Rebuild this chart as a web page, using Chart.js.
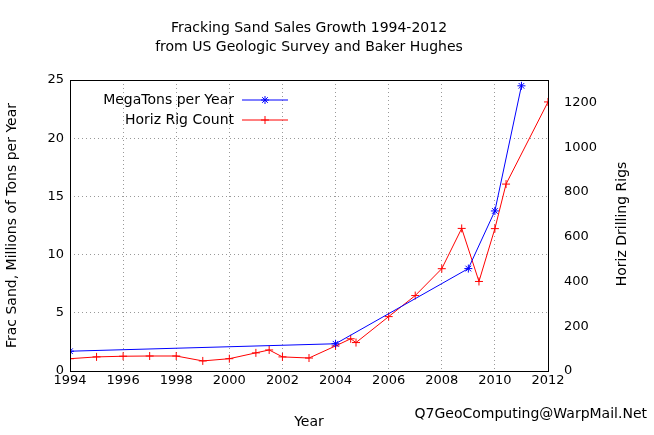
<!DOCTYPE html>
<html>
<head>
<meta charset="utf-8">
<script src="https://cdn.jsdelivr.net/npm/chart.js@4"></script>
<style>
  html, body { margin: 0; padding: 0; background: #fff; }
  #wrap { width: 654px; height: 435px; }
</style>
</head>
<body>
<div id="wrap"><canvas id="c" width="654" height="435"></canvas></div>
<script>
// 데이터
var sandYears = [1994, 2004, 2009, 2010, 2011];
var sandTons = [1.7, 2.34, 8.8, 13.75, 24.5];
var rigYears = [1994, 1995, 1996, 1997, 1998, 1999, 2000, 2001, 2001.5, 2002, 2003,
  2004, 2004.57, 2004.77, 2006, 2007, 2008, 2008.75, 2009.4, 2010, 2010.42, 2012];
var rigCount = [55, 63, 66, 67, 67, 45, 55, 81, 94, 63, 58,
  112, 144, 127, 243, 337, 457, 637, 400, 636, 835, 1202];
var leftTicks = [0, 5, 10, 15, 20, 25];
var rightTicks = [0, 200, 400, 600, 800, 1000, 1200];

var FONT = "'DejaVu Sans', Verdana, sans-serif";

function pts(xs, ys) {
  return xs.map((x, i) => ({ x: x, y: ys[i] }));
}

// 제목, 범례, 서명 그리기
var decor = {
  id: "decor",
  afterDraw(chart) {
    var ctx = chart.ctx;
    var a = chart.chartArea;
    ctx.save();
    ctx.fillStyle = "#000";
    ctx.font = "14px " + FONT;
    ctx.textAlign = "center";
    ctx.textBaseline = "middle";
    ctx.fillText("Fracking Sand Sales Growth 1994-2012", 309, 28);
    ctx.fillText("from US Geologic Survey and Baker Hughes", 309, 47);

    // 오른쪽 축 제목 (아래에서 위로)
    ctx.save();
    ctx.translate(622, 224);
    ctx.rotate(-Math.PI / 2);
    ctx.fillText("Horiz Drilling Rigs", 0, 0);
    ctx.restore();

    // 테두리
    ctx.strokeStyle = "#000";
    ctx.lineWidth = 1;
    ctx.strokeRect(a.left + 0.5, a.top + 0.5, a.right - a.left, a.bottom - a.top);

    // 범례
    var items = [
      { label: "MegaTons per Year", color: "#0000ff", style: "star", y: 100 },
      { label: "Horiz Rig Count", color: "#ff0000", style: "cross", y: 120 },
    ];
    ctx.textAlign = "right";
    items.forEach((it) => {
      ctx.fillStyle = "#000";
      ctx.fillText(it.label, 234, it.y);
      ctx.strokeStyle = it.color;
      ctx.beginPath();
      ctx.moveTo(242, it.y);
      ctx.lineTo(288, it.y);
      ctx.stroke();
      Chart.helpers.drawPoint(ctx, { pointStyle: it.style, radius: 4, borderWidth: 1 }, 265, it.y);
    });

    ctx.fillStyle = "#000";
    ctx.font = "14px " + FONT;
    ctx.textAlign = "right";
    ctx.fillText("Q7GeoComputing@WarpMail.Net", 647, 414);
    ctx.restore();
  },
};

var ctx = document.getElementById("c").getContext("2d");
new Chart(ctx, {
  type: "scatter",
  data: {
    datasets: [
      {
        label: "MegaTons per Year",
        data: pts(sandYears, sandTons),
        showLine: true,
        borderColor: "#0000ff",
        backgroundColor: "#0000ff",
        borderWidth: 1,
        pointStyle: "star",
        pointRadius: 4,
        pointBorderWidth: 1,
        yAxisID: "y",
      },
      {
        label: "Horiz Rig Count",
        data: pts(rigYears, rigCount),
        showLine: true,
        borderColor: "#ff0000",
        backgroundColor: "#ff0000",
        borderWidth: 1,
        pointStyle: "cross",
        pointRadius: 4,
        pointBorderWidth: 1,
        yAxisID: "y2",
      },
    ],
  },
  options: {
    responsive: false,
    animation: false,
    layout: { padding: { top: 80, bottom: 0, left: 0, right: 0 } },
    plugins: { legend: { display: false }, tooltip: { enabled: false } },
    scales: {
      x: {
        type: "linear",
        min: 1994,
        max: 2012,
        afterBuildTicks(s) { s.ticks = [1994,1996,1998,2000,2002,2004,2006,2008,2010,2012].map((v) => ({ value: v })); },
        afterFit(s) { s.height = 64; },
        ticks: { color: "#000", font: { family: FONT, size: 13 }, padding: 2, callback: (v) => String(v) },
        grid: { color: "#999", drawTicks: false },
        border: { display: false, dash: [1, 3] },
        title: { display: true, text: "Year", color: "#000", font: { family: FONT, size: 14 }, padding: { top: 8 } },
      },
      y: {
        position: "left",
        min: 0,
        max: 25,
        afterBuildTicks(s) { s.ticks = leftTicks.map((v) => ({ value: v })); },
        afterFit(s) { s.width = 70; },
        ticks: { color: "#000", font: { family: FONT, size: 13 }, padding: 6 },
        grid: { color: "#999", drawTicks: false },
        border: { display: false, dash: [1, 3] },
        title: { display: true, text: "Frac Sand, Millions of Tons per Year", color: "#000", font: { family: FONT, size: 14 }, padding: { bottom: 4 } },
      },
      y2: {
        position: "right",
        min: 0,
        max: 1300,
        afterBuildTicks(s) { s.ticks = rightTicks.map((v) => ({ value: v })); },
        afterFit(s) { s.width = 106; },
        ticks: { color: "#000", font: { family: FONT, size: 13 }, padding: 8, callback: (v) => String(v) },
        grid: { display: false },
        border: { display: false },
      },
    },
  },
  plugins: [decor],
});
</script>
</body>
</html>
